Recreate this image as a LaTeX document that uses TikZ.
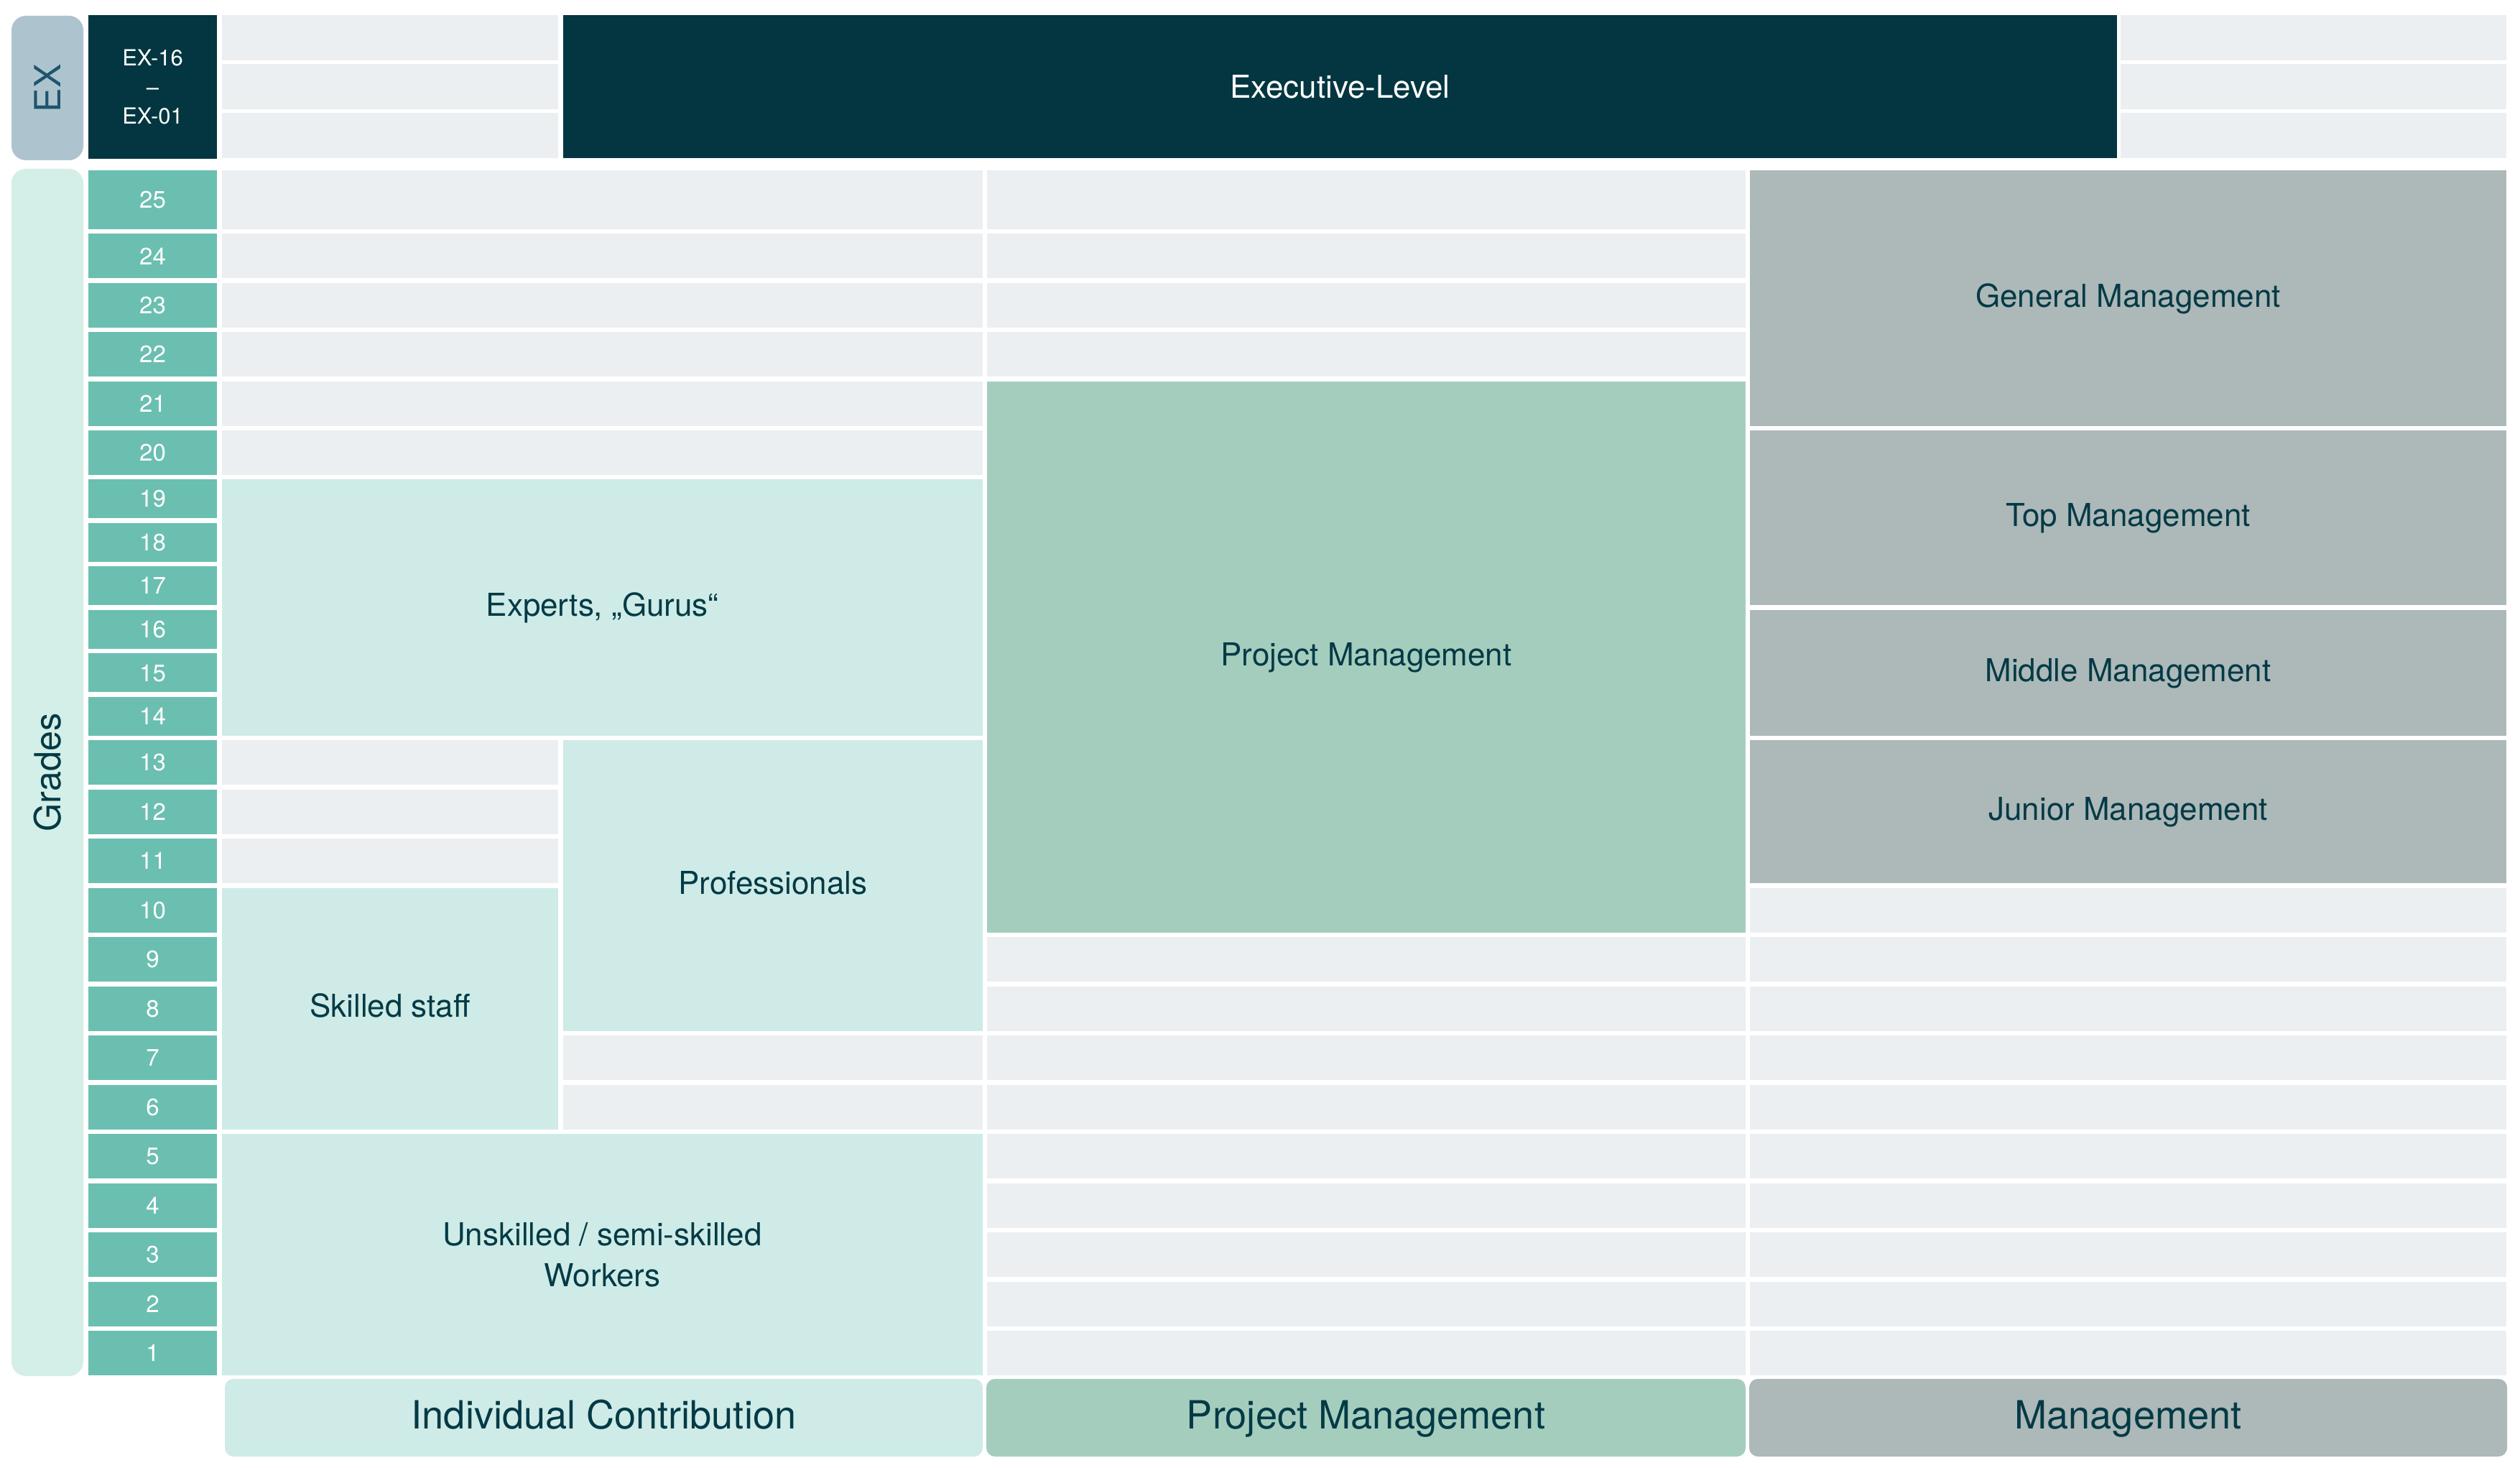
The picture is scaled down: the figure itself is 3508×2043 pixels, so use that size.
\documentclass[tikz,border=0pt]{standalone}
\usepackage{fontspec}
\setmainfont{TeX Gyre Heros}
\definecolor{darkc}{RGB}{3,54,64}
\definecolor{txtc}{RGB}{3,58,69}
\definecolor{gnumc}{RGB}{107,191,176}
\definecolor{expillc}{RGB}{173,196,206}
\definecolor{grpillc}{RGB}{212,238,232}
\definecolor{cellc}{RGB}{235,239,241}
\definecolor{icc}{RGB}{206,235,231}
\definecolor{pmc}{RGB}{165,205,190}
\definecolor{mgc}{RGB}{173,184,185}
\definecolor{exbluec}{RGB}{30,85,110}
\newcommand\boxnode[7]{%
  \node[#1, minimum width={(#5-#3)*0.1mm}, minimum height={(#6-#4)*0.1mm}] (#2) at ({(#3+#5)/2},{(#4+#6)/2}) {#7};}
\newcommand\cellrect[4]{\fill[cellc] (#1,#2) rectangle (#3,#4);}
\begin{document}
\begin{tikzpicture}[x=0.1mm,y=-0.1mm,
  base/.style={inner sep=0pt, outer sep=0pt, draw=none, align=center, text=txtc,
    font=\fontsize{12.5}{16.2}\selectfont},
  oneline/.style={text height=7pt, text depth=0pt},
  icbox/.style={base, fill=icc},
  pmbox/.style={base, fill=pmc},
  mgbox/.style={base, fill=mgc},
  gradebox/.style={base, text height=6.7pt, text depth=0pt, fill=gnumc, text=white, font=\fontsize{9.4}{11}\selectfont},
  darkbox/.style={base, fill=darkc, text=white},
  pill/.style={base, rounded corners=2mm},
  catlabel/.style={base, text height=8.6pt, text depth=0pt, rounded corners=1.2mm, font=\fontsize{15.4}{18}\selectfont},
  vtext/.style={inner sep=0pt, rotate=90, font=\fontsize{14.3}{16}\selectfont}
]
\fill[white] (0,0) rectangle (3508,2043);
\useasboundingbox (0,0) rectangle (3508,2043);

% ---------- EX band ----------
\boxnode{pill, fill=expillc}{expill}{16}{22}{116}{223}{}
\node[vtext, text=exbluec] (extext) at (expill.center) {EX};
\boxnode{darkbox, font=\fontsize{8.8}{11.4}\selectfont}{exrange}{123}{21}{302}{221}{EX-16\\–\\EX-01}
\foreach \t/\b in {21/84, 89.5/152, 157.5/220.5}{
  \cellrect{309}{\t}{777}{\b}
  \cellrect{2952}{\t}{3489}{\b}
}
\boxnode{darkbox, text height=9pt, text depth=0pt}{exec}{784}{21}{2947}{220.5}{Executive-Level}

% ---------- Grades pill ----------
\boxnode{pill, fill=grpillc}{grpill}{16}{235}{116}{1915}{}
\node[vtext, text=txtc] (grtext) at (grpill.center) {Grades};

% ---------- grade numbers ----------
\foreach \k/\t/\b in {25/237/319, 24/325.4/387.4, 23/393.8/455.8, 22/462.2/524.2,
  21/530.6/592.6, 20/599/661, 19/667/721, 18/727.6/781.6, 17/788.2/842.2,
  16/848.8/902.8, 15/909.4/963.4, 14/970/1024, 13/1030/1092, 12/1098.5/1160.5,
  11/1167/1229, 10/1235.5/1297.5, 9/1304/1366, 8/1372.5/1434.5, 7/1441/1503,
  6/1509.5/1571.5, 5/1578/1640, 4/1646.5/1708.5, 3/1715/1777, 2/1783.5/1845.5,
  1/1852/1914}{
  \boxnode{gradebox}{g\k}{123}{\t}{302}{\b}{\k}
}

% ---------- empty cells ----------
% individual contribution, grades 25-20
\foreach \t/\b in {237/319, 325.4/387.4, 393.8/455.8, 462.2/524.2, 530.6/592.6, 599/661}{
  \cellrect{309}{\t}{1368}{\b}
}
% column A, grades 13-11
\foreach \t/\b in {1030/1092, 1098.5/1160.5, 1167/1229}{
  \cellrect{309}{\t}{777}{\b}
}
% column B, grades 7-6
\foreach \t/\b in {1441/1503, 1509.5/1571.5}{
  \cellrect{784}{\t}{1368}{\b}
}
% project management column, grades 25-22
\foreach \t/\b in {237/319, 325.4/387.4, 393.8/455.8, 462.2/524.2}{
  \cellrect{1374}{\t}{2430}{\b}
}
% project management column, grades 9-1 and management column, grades 10-1
\foreach \t/\b in {1304/1366, 1372.5/1434.5, 1441/1503, 1509.5/1571.5, 1578/1640,
  1646.5/1708.5, 1715/1777, 1783.5/1845.5, 1852/1914}{
  \cellrect{1374}{\t}{2430}{\b}
  \cellrect{2436}{\t}{3489}{\b}
}
\cellrect{2436}{1235.5}{3489}{1297.5}

% ---------- role blocks ----------
\boxnode{icbox, oneline}{experts}{309}{667}{1368}{1024}{Experts, „Gurus“}
\boxnode{icbox, oneline}{prof}{784}{1030}{1368}{1434.5}{Professionals}
\boxnode{icbox, oneline}{skilled}{309}{1235.5}{777}{1571.5}{Skilled staff}
\boxnode{icbox}{unskilled}{309}{1578}{1368}{1914}{Unskilled / semi-skilled\\Workers}
\boxnode{pmbox, oneline}{pm}{1374}{530.6}{2430}{1297.5}{Project Management}
\boxnode{mgbox, oneline}{genm}{2436}{237}{3489}{592.6}{General Management}
\boxnode{mgbox, oneline}{topm}{2436}{599}{3489}{842.2}{Top Management}
\boxnode{mgbox, oneline}{midm}{2436}{848.8}{3489}{1024}{Middle Management}
\boxnode{mgbox, oneline}{junm}{2436}{1030}{3489}{1229}{Junior Management}

% ---------- bottom category labels ----------
\boxnode{catlabel, fill=icc}{labic}{313}{1919}{1368}{2027}{Individual Contribution}
\boxnode{catlabel, fill=pmc}{labpm}{1373}{1919}{2430}{2027}{Project Management}
\boxnode{catlabel, fill=mgc}{labmg}{2435}{1919}{3490}{2027}{Management}
\end{tikzpicture}
\end{document}
